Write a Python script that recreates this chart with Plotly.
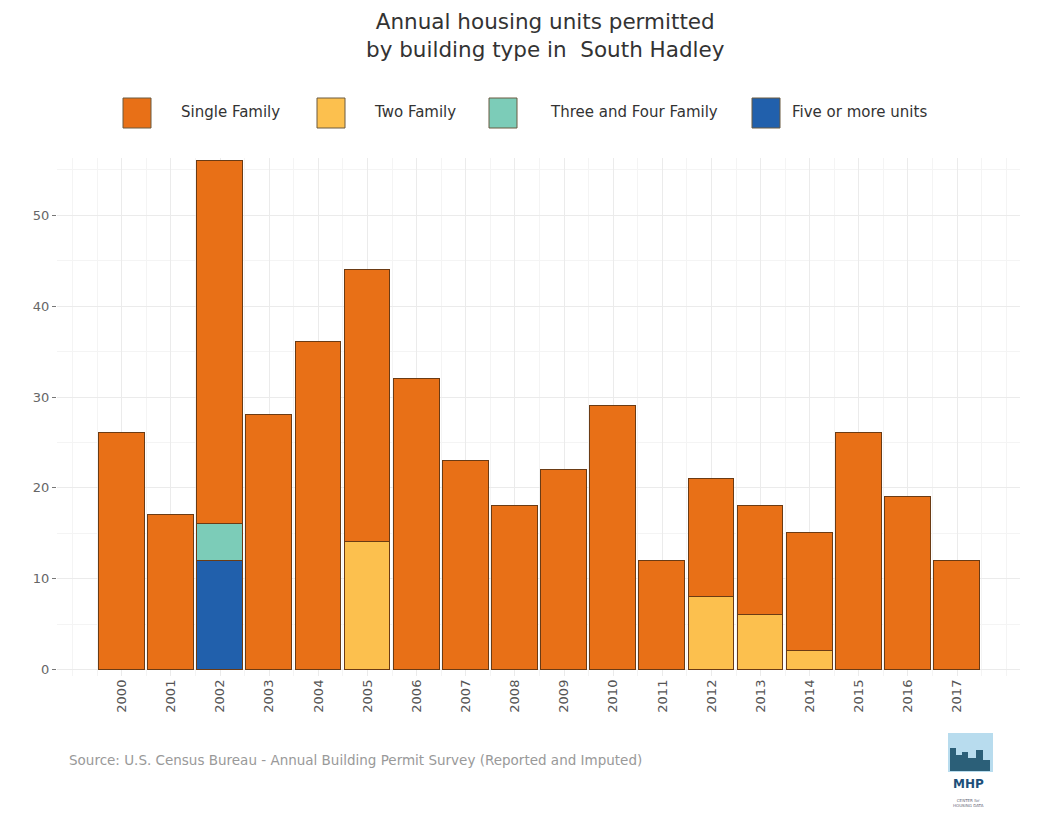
import plotly.graph_objects as go

years = list(range(2000, 2018))
single_family = [26, 17, 40, 28, 36, 30, 32, 23, 18, 22, 29, 12, 13, 12, 13, 26, 19, 12]
two_family    = [0, 0, 0, 0, 0, 14, 0, 0, 0, 0, 0, 0, 8, 6, 2, 0, 0, 0]
three_four    = [0, 0, 4, 0, 0, 0, 0, 0, 0, 0, 0, 0, 0, 0, 0, 0, 0, 0]
five_plus     = [0, 0, 12, 0, 0, 0, 0, 0, 0, 0, 0, 0, 0, 0, 0, 0, 0, 0]

series = [
    ("Five or more units", five_plus, "#2160AC"),
    ("Three and Four Family", three_four, "#7CCCB8"),
    ("Two Family", two_family, "#FCC04E"),
    ("Single Family", single_family, "#E87017"),
]
legend_order = ["Single Family", "Two Family", "Three and Four Family", "Five or more units"]
colors = {n: c for n, _, c in series}

W, H = 1038, 818
ML, MR, MT, MB = 57, 18, 158, 142
PW, PH = W - ML - MR, H - MT - MB


def px(x):
    return (x - ML) / PW


def py(y):
    return (H - MB - y) / PH


fig = go.Figure()
for name, vals, col in series:
    fig.add_trace(go.Bar(
        x=years, y=vals, name=name, width=0.93,
        marker=dict(color=col, line=dict(color="#6b3b14", width=1)),
        showlegend=False,
    ))

font_fam = "DejaVu Sans, Verdana, sans-serif"
fig.update_layout(
    barmode="stack",
    width=W, height=H,
    margin=dict(l=ML, r=MR, t=MT, b=MB),
    paper_bgcolor="white", plot_bgcolor="white",
    font=dict(family=font_fam, color="#444"),
    bargap=0,
)
fig.update_xaxes(
    range=[1998.68, 2018.28], tickmode="array", tickvals=years,
    ticktext=[str(y) for y in years], tickangle=-90,
    tickfont=dict(size=13, color="#555"),
    showgrid=True, gridcolor="#ebebeb", gridwidth=1,
    minor=dict(dtick=0.5, tick0=0.5, showgrid=True, gridcolor="#f4f4f4", gridwidth=1),
    zeroline=False, ticks="", showline=False,
)
fig.update_yaxes(
    range=[-0.7, 56.3], tickvals=[0, 10, 20, 30, 40, 50],
    tickfont=dict(size=13, color="#666"),
    ticks="outside", ticklen=4, tickcolor="#777",
    showgrid=True, gridcolor="#ebebeb", gridwidth=1,
    minor=dict(tickvals=[5, 15, 25, 35, 45, 55], showgrid=True, gridcolor="#f4f4f4", gridwidth=1),
    zeroline=False, showline=False,
)

shapes = []
annotations = []

# title
annotations.append(dict(x=px(545), y=py(7), xref="paper", yref="paper",
                        text="Annual housing units permitted<br>by building type in  South Hadley",
                        showarrow=False, xanchor="center", yanchor="top",
                        font=dict(size=21.5, color="#333")))

# manual legend with large keys
key_x = [137, 331, 503, 766]
text_x = [179, 372, 548, 790]
for name, kx, tx in zip(legend_order, key_x, text_x):
    shapes.append(dict(type="rect", xref="paper", yref="paper",
                       x0=px(kx - 14), x1=px(kx + 14), y0=py(128), y1=py(98),
                       fillcolor=colors[name], line=dict(color="#6b5a40", width=1)))
    annotations.append(dict(x=px(tx), y=py(112), xref="paper", yref="paper",
                            text=name, showarrow=False, xanchor="left", yanchor="middle",
                            font=dict(size=15, color="#333")))

annotations.append(dict(x=px(67), y=py(760), xref="paper", yref="paper",
                        text="Source: U.S. Census Bureau - Annual Building Permit Survey (Reported and Imputed)",
                        showarrow=False, xanchor="left", yanchor="middle",
                        font=dict(size=13.5, color="#999")))

# logo approximation
shapes.append(dict(type="rect", xref="paper", yref="paper",
                   x0=px(948), x1=px(993), y0=py(772), y1=py(733),
                   fillcolor="#b8dcee", line=dict(width=0)))
for x0, x1, y0 in [(950, 956, 748), (956, 962, 755), (962, 968, 752), (968, 976, 758), (976, 983, 750), (983, 990, 760)]:
    shapes.append(dict(type="rect", xref="paper", yref="paper",
                       x0=px(x0), x1=px(x1), y0=py(771), y1=py(y0),
                       fillcolor="#2b5f78", line=dict(width=0)))
annotations.append(dict(x=px(968), y=py(784), xref="paper", yref="paper", text="<b>MHP</b>",
                        showarrow=False, xanchor="center", yanchor="middle",
                        font=dict(size=12, color="#1d4f7a")))
annotations.append(dict(x=px(968), y=py(803), xref="paper", yref="paper",
                        text="CENTER for<br>HOUSING DATA", showarrow=False,
                        xanchor="center", yanchor="middle",
                        font=dict(size=4, color="#667")))
fig.update_layout(shapes=shapes, annotations=annotations)

fig.write_html("out.html")
